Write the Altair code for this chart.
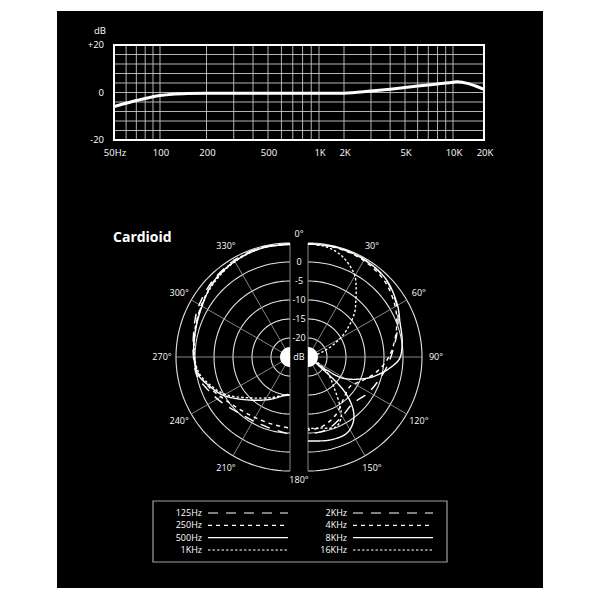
import numpy as np
import pandas as pd
import altair as alt

# ------------------------------------------------------------------ data
FR_HZ = [50, 60, 70, 80, 90, 100, 120, 150, 200, 500, 1000, 2000, 3000, 4000,
         5000, 6000, 7000, 8000, 9000, 10000, 11000, 20000]
FR_DB = [-5.9, -4.5, -3.4, -2.5, -1.8, -1.3, -0.7, -0.4, -0.3, -0.3, -0.3, -0.3,
         0.6, 1.4, 2.1, 2.7, 3.2, 3.6, 4.0, 4.3, 4.5, 1.3]
FR_GRID_HZ = [60, 70, 80, 90, 100, 200, 300, 400, 500, 600, 700, 800, 900, 1000,
              2000, 3000, 4000, 5000, 6000, 7000, 8000, 9000, 10000]
FR_GRID_DB = [-16, -12, -8, -4, 0, 4, 8, 12, 16]
FR_TICK_HZ = [50, 100, 200, 500, 1000, 2000, 5000, 10000, 20000]
FR_TICK_TEXT = ["50Hz", "100", "200", "500", "1K", "2K", "5K", "10K", "20K"]
FR_DB_TICKS = [20, 0, -20]
FR_DB_TEXT = ["+20", "0", "-20"]
FR_HZ_MIN, FR_HZ_MAX = 50, 20000
FR_DB_MIN, FR_DB_MAX = -20, 20
FR_AXIS_HZ = [50, 100, 500, 1000, 2000, 5000, 10000, 20000]  # anchors of the printed (uneven) log axis

LOW_SERIES = ["125Hz", "250Hz", "500Hz", "1KHz"]
HIGH_SERIES = ["2KHz", "4KHz", "8KHz", "16KHz"]

PHI_125 = [0, 15, 30, 45, 55, 65, 78, 90, 101, 111, 122, 136, 150, 162, 180]
DB_125 = [4.8, 4.8, 4.4, 3.6, 2.9, 2.2, 1.0, 0.4, 0.0, -1.6, -3.2, -4.9, -5.6, -5.6, -4.6]
PHI_250 = [0, 15, 30, 45, 55, 68, 80, 90, 100, 110, 122, 136, 150, 165, 180]
DB_250 = [4.8, 4.7, 4.2, 3.2, 2.4, 1.4, 0.7, 0.2, -0.5, -2.2, -4.3, -5.9, -6.6, -6.7, -6.3]
PHI_500 = [0, 14, 29, 45, 63, 77, 90, 101, 110, 120, 137, 155, 170, 180]
DB_500 = [4.6, 4.6, 4.1, 3.3, 1.5, 0.7, 0.3, -0.4, -2.5, -4.8, -9.5, -12.7, -14.6, -15.0]
PHI_1K = [0, 15, 30, 45, 60, 75, 90, 100, 110, 120, 135, 155, 170, 180]
DB_1K = [4.8, 4.6, 4.0, 3.0, 1.9, 0.8, 0.1, -0.7, -2.9, -5.3, -9.8, -13.2, -14.8, -15.2]
PHI_2K = [0, 15, 30, 45, 60, 72, 85, 98, 110, 121, 137, 150, 165, 180]
DB_2K = [4.8, 4.8, 4.6, 3.9, 2.0, -0.2, -2.5, -4.2, -5.6, -6.6, -8.0, -7.0, -5.3, -4.6]
PHI_4K = [0, 15, 30, 45, 60, 72, 85, 95, 105, 115, 125, 140, 155, 170, 180]
DB_4K = [4.8, 4.7, 4.3, 3.4, 1.5, -0.5, -2.8, -4.8, -7.2, -9.8, -11.5, -10.5, -8.0, -6.2, -5.8]
PHI_8K = [0, 15, 30, 45, 60, 69, 81, 91, 97, 103, 110, 121, 125, 127, 128, 133, 139,
          145, 153, 165, 180]
DB_8K = [4.8, 4.8, 4.6, 4.0, 2.2, 0.9, 0.1, -0.9, -3.0, -5.5, -8.6, -14.1, -19.0, -22.5,
         -22.0, -12.3, -7.0, -4.2, -2.5, -2.4, -2.9]
PHI_16K = [0, 8, 15, 20, 26, 30, 35, 40, 46, 52, 58, 64, 70, 78, 90, 105, 120, 130,
           139, 147, 151, 158, 170, 180]
DB_16K = [4.8, 4.5, 3.7, 2.7, 1.0, -0.3, -2.9, -5.4, -7.9, -11.0, -14.1, -17.5, -20.8,
          -23.5, -24.2, -24.0, -22.0, -18.0, -14.7, -9.5, -7.0, -5.2, -6.0, -6.2]

SERIES_PHI = {"125Hz": PHI_125, "250Hz": PHI_250, "500Hz": PHI_500, "1KHz": PHI_1K,
              "2KHz": PHI_2K, "4KHz": PHI_4K, "8KHz": PHI_8K, "16KHz": PHI_16K}
SERIES_DB = {"125Hz": DB_125, "250Hz": DB_250, "500Hz": DB_500, "1KHz": DB_1K,
             "2KHz": DB_2K, "4KHz": DB_4K, "8KHz": DB_8K, "16KHz": DB_16K}

RING_DB = [-20, -15, -10, -5, 0, 5]
RING_TEXT = ["-20", "-15", "-10", "-5", "0"]
CENTER_DB = -25
SPOKE_DEG = [0, 30, 60, 90, 120, 150, 180]
ANGLE_LABEL_DEG = [30, 60, 90, 120, 150]
RIGHT_ANGLE_TEXT = ["30°", "60°", "90°", "120°", "150°"]
LEFT_ANGLE_TEXT = ["330°", "300°", "270°", "240°", "210°"]

# ------------------------------------------------------------------ layout / style
FONT = "Open Sans"
W = 486
H1, H2, H3 = 179, 300, 98
FR_AXIS_PX = [57, 103, 211, 262, 287, 348, 396, 427]
FR_Y_RANGE = [129, 34]
PX = 3.8           # pixels per dB in the polar plot
CX, CY = 242, 167  # centre of the polar figure inside its panel
HG = 9 / PX        # half gap between the two half-plots (dB units)
ALL_SERIES = LOW_SERIES + HIGH_SERIES
STYLE_GROUPS = [
    (["125Hz", "2KHz"], [10, 8]),
    (["250Hz", "4KHz"], [4, 4]),
    (["500Hz", "8KHz"], [1, 0]),
    (["1KHz", "16KHz"], [2.5, 2]),
]
one = pd.DataFrame({"a": [0]})

# ------------------------------------------------------------------ top chart
fr_x = alt.Scale(type="log", domain=FR_AXIS_HZ, range=FR_AXIS_PX, nice=False)
fr_y = alt.Scale(domain=[FR_DB_MIN, FR_DB_MAX], range=FR_Y_RANGE, nice=False, zero=False)

vgrid_df = pd.DataFrame({"hz": FR_GRID_HZ, "lo": FR_DB_MIN, "hi": FR_DB_MAX})
hgrid_df = pd.DataFrame({"db": FR_GRID_DB, "lo": FR_HZ_MIN, "hi": FR_HZ_MAX})
frame_df = pd.DataFrame({"h0": [FR_HZ_MIN], "h1": [FR_HZ_MAX], "d0": [FR_DB_MIN], "d1": [FR_DB_MAX]})
curve_df = pd.DataFrame({"hz": FR_HZ, "db": FR_DB})
xlab_df = pd.DataFrame({"hz": FR_TICK_HZ, "db": FR_DB_MIN, "t": FR_TICK_TEXT})
ylab_df = pd.DataFrame({"hz": FR_HZ_MIN, "db": FR_DB_TICKS, "t": FR_DB_TEXT})
unit_df = pd.DataFrame({"hz": [FR_HZ_MIN], "db": [FR_DB_MAX], "t": ["dB"]})

vgrid = alt.Chart(vgrid_df).mark_rule(color="#c8c8c8", strokeWidth=0.9).encode(
    x=alt.X("hz:Q", scale=fr_x, axis=None),
    y=alt.Y("lo:Q", scale=fr_y, axis=None), y2="hi:Q")
hgrid = alt.Chart(hgrid_df).mark_rule(color="#c8c8c8", strokeWidth=0.9).encode(
    y="db:Q", x="lo:Q", x2="hi:Q")
frame = alt.Chart(frame_df).mark_rect(fillOpacity=0, stroke="white", strokeWidth=2).encode(
    x="h0:Q", x2="h1:Q", y="d0:Q", y2="d1:Q")
curve = alt.Chart(curve_df).mark_line(color="white", strokeWidth=3, interpolate="monotone").encode(
    x="hz:Q", y="db:Q")
xlab = alt.Chart(xlab_df).mark_text(
    color="white", fontSize=9.5, font=FONT, dy=13, dx=1, baseline="middle").encode(
    x="hz:Q", y="db:Q", text="t:N")
ylab = alt.Chart(ylab_df).mark_text(
    color="white", fontSize=9.5, font=FONT, dx=-10, align="right", baseline="middle").encode(
    x="hz:Q", y="db:Q", text="t:N")
unit = alt.Chart(unit_df).mark_text(
    color="white", fontSize=9.5, font=FONT, dx=-8, dy=-14, align="right", baseline="middle").encode(
    x="hz:Q", y="db:Q", text="t:N")

top = alt.layer(vgrid, hgrid, curve, frame, xlab, ylab, unit).properties(width=W, height=H1)

# ------------------------------------------------------------------ polar chart
px_scale = alt.Scale(domain=[-CX / PX, (W - CX) / PX], nice=False, zero=False)
py_scale = alt.Scale(domain=[-(H2 - CY) / PX, CY / PX], nice=False, zero=False)

R_EXPR = f"(datum.db - ({CENTER_DB}))"
X_EXPR = f"datum.side * ({R_EXPR} * sin(datum.phi * PI / 180) + {HG})"
Y_EXPR = f"{R_EXPR} * cos(datum.phi * PI / 180)"


def polar(chart):
    return chart.transform_calculate(px=X_EXPR, py=Y_EXPR)


rows = []
for name in ALL_SERIES:
    side = -1 if name in LOW_SERIES else 1
    for i, (p, d) in enumerate(zip(SERIES_PHI[name], SERIES_DB[name])):
        rows.append({"series": name, "side": side, "phi": p, "db": d, "idx": i})
pol_df = pd.DataFrame(rows)

ring_rows = []
for lvl in RING_DB:
    for side in (-1, 1):
        for i, p in enumerate(np.arange(0, 181, 2)):
            ring_rows.append({"ring": f"{lvl}_{side}", "side": side, "phi": float(p),
                              "db": lvl, "idx": i})
ring_df = pd.DataFrame(ring_rows)

spoke_rows = []
for a in SPOKE_DEG:
    for side in (-1, 1):
        for i, lvl in enumerate([CENTER_DB, RING_DB[-1]]):
            spoke_rows.append({"spoke": f"{a}_{side}", "side": side, "phi": a, "db": lvl, "idx": i})
spoke_df = pd.DataFrame(spoke_rows)

lab_rows = []
for a, tr, tl in zip(ANGLE_LABEL_DEG, RIGHT_ANGLE_TEXT, LEFT_ANGLE_TEXT):
    lab_rows.append({"t": tr, "side": 1, "phi": a, "db": CENTER_DB + 128 / PX})
    lab_rows.append({"t": tl, "side": -1, "phi": a, "db": CENTER_DB + 128 / PX})
lab_rows.append({"t": "0°", "side": 0, "phi": 0, "db": CENTER_DB + 123 / PX})
lab_rows.append({"t": "180°", "side": 0, "phi": 180, "db": CENTER_DB + 123 / PX})
for lvl, t in zip(RING_DB[:-1], RING_TEXT):
    lab_rows.append({"t": t, "side": 0, "phi": 0, "db": lvl})
lab_rows.append({"t": "dB", "side": 0, "phi": 0, "db": CENTER_DB})
lab_df = pd.DataFrame(lab_rows)

rings = polar(alt.Chart(ring_df)).mark_line(color="#e2e2e2", strokeWidth=1.1).encode(
    x=alt.X("px:Q", scale=px_scale, axis=None),
    y=alt.Y("py:Q", scale=py_scale, axis=None),
    detail="ring:N", order="idx:Q")
spokes = polar(alt.Chart(spoke_df)).mark_line(color="#a8a8a8", strokeWidth=0.8).encode(
    x="px:Q", y="py:Q", detail="spoke:N", order="idx:Q")

line_layers = []
for names, dash in STYLE_GROUPS:
    line_layers.append(
        polar(alt.Chart(pol_df)).transform_filter(
            alt.FieldOneOfPredicate(field="series", oneOf=names)
        ).mark_line(color="white", strokeWidth=1.4, interpolate="catmull-rom",
                    strokeDash=dash).encode(
            x="px:Q", y="py:Q", detail="series:N", order="idx:Q")
    )

blob_df = pd.DataFrame({"side": [-1, 1], "phi": [0, 0], "db": [CENTER_DB, CENTER_DB]})
blob_l = polar(alt.Chart(blob_df)).transform_filter("datum.side < 0").mark_point(
    shape="M0,-1A1,1,0,0,0,0,1Z", filled=True, color="white", opacity=1, size=400).encode(
    x="px:Q", y="py:Q")
blob_r = polar(alt.Chart(blob_df)).transform_filter("datum.side > 0").mark_point(
    shape="M0,-1A1,1,0,0,1,0,1Z", filled=True, color="white", opacity=1, size=400).encode(
    x="px:Q", y="py:Q")
labels = polar(alt.Chart(lab_df)).mark_text(
    color="white", fontSize=9, font=FONT, baseline="middle").encode(
    x="px:Q", y="py:Q", text="t:N")
title = alt.Chart(pd.DataFrame({"t": ["Cardioid"]})).mark_text(
    color="white", fontSize=14, font=FONT, fontWeight="bold", align="left",
    baseline="alphabetic").encode(x=alt.value(56), y=alt.value(52), text="t:N")

polar_chart = alt.layer(rings, spokes, *line_layers, blob_l, blob_r, labels, title).properties(
    width=W, height=H2)

# ------------------------------------------------------------------ legend
leg_rows = []
for col, names in enumerate([LOW_SERIES, HIGH_SERIES]):
    for row, name in enumerate(names):
        leg_rows.append({"series": name, "col": col, "row": row})
leg_df = pd.DataFrame(leg_rows)
lx = alt.Scale(domain=[0, 1], range=[145, 290], nice=False, zero=False)
ly = alt.Scale(domain=[0, 3], range=[23, 60], nice=False, zero=False)

box = alt.Chart(one).mark_rect(fillOpacity=0, stroke="#a0a0a0", strokeWidth=1.2).encode(
    x=alt.value(96), x2=alt.value(390), y=alt.value(11), y2=alt.value(72))
leg_text = alt.Chart(leg_df).mark_text(
    color="white", fontSize=9, font=FONT, align="right", baseline="middle").encode(
    x=alt.X("col:Q", scale=lx, axis=None), y=alt.Y("row:Q", scale=ly, axis=None),
    text="series:N")
leg_lines = []
for names, dash in STYLE_GROUPS:
    leg_lines.append(
        alt.Chart(leg_df).transform_filter(
            alt.FieldOneOfPredicate(field="series", oneOf=names)
        ).mark_rule(color="white", strokeWidth=1.2, xOffset=6, x2Offset=86,
                    strokeDash=dash).encode(x="col:Q", x2="col:Q", y="row:Q")
    )

legend_chart = alt.layer(box, leg_text, *leg_lines).properties(width=W, height=H3)

# ------------------------------------------------------------------ assemble
chart = alt.vconcat(top, polar_chart, legend_chart, spacing=0).properties(
    padding={"left": 49, "top": 3, "right": 0, "bottom": 0},
    background="white",
).configure_view(fill="black", strokeWidth=0)

chart.save("out.html", embed_options={"renderer": "svg", "actions": False})
